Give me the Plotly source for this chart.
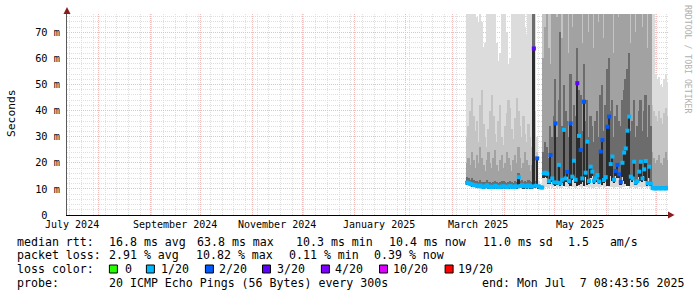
import plotly.graph_objects as go
import pandas as pd

# ---------------- data ----------------
first_bin = "2025-03-09 12:00"   # daily bins, Mar 9 .. Jul 7 2025

median_ms = [
    12.4, 12.2, 11.9, 11.7, 11.5, 11.4, 11.2, 11.0, 11.3, 10.9,
    10.8, 11.0, 11.4, 10.8, 10.9, 10.7, 10.8, 11.2, 10.8, 10.7,
    10.8, 10.9, 11.0, 10.8, 10.7, 10.9, 11.1, 10.8, 10.7, 11.0,
    10.9, 14.5, 11.1, 11.4, 11.0, 11.2, 10.9, 11.3, 11.0, 10.9,
    63.8, 11.2, 21.7, 11.0, 10.6, 10.5, 16.0, 16.2, 15.8, 13.0,
    23.0, 14.0, 12.5, 35.1, 12.4, 19.2, 12.2, 13.5, 32.6, 14.0,
    16.5, 13.0, 35.1, 14.7, 20.8, 13.5, 50.5, 30.3, 24.9, 14.0,
    43.4, 16.2, 28.1, 13.0, 18.5, 16.6, 13.1, 14.0, 15.3, 12.8,
    24.3, 28.7, 13.4, 14.5, 33.8, 37.7, 19.5, 22.4, 13.5, 16.9,
    19.2, 15.6, 12.6, 20.0, 23.9, 25.5, 32.3, 37.7, 14.7, 14.0,
    20.4, 12.4, 13.0, 16.6, 20.4, 14.0, 17.5, 20.7, 12.2, 18.5,
    12.0, 10.3, 10.2, 10.2, 10.3, 10.2, 10.2, 10.3, 10.2, 10.2, 10.4,
]

loss_pings = [
    1, 1, 1, 1, 1, 1, 1, 1, 1, 1,
    1, 1, 1, 1, 1, 1, 1, 1, 1, 1,
    1, 1, 1, 1, 1, 1, 1, 1, 1, 1,
    1, 1, 1, 1, 1, 1, 1, 1, 1, 1,
    3, 1, 2, 1, 1, 1, 1, 1, 1, 1,
    2, 1, 1, 2, 1, 1, 1, 1, 1, 1,
    2, 1, 2, 1, 1, 1, 3, 1, 2, 1,
    2, 1, 1, 1, 1, 1, 1, 1, 1, 1,
    2, 2, 1, 1, 2, 2, 1, 1, 1, 2,
    2, 2, 2, 1, 1, 1, 1, 1, 1, 1,
    1, 1, 1, 1, 1, 1, 1, 1, 1, 1,
    1, 1, 1, 1, 1, 1, 1, 1, 1, 1, 1,
]

# lowest ping of each bin (bottom of the outer smoke)
smoke_lo = [
    11.8, 11.6, 11.3, 11.1, 10.9, 10.8, 10.6, 10.5, 10.6, 10.4,
    10.3, 10.4, 10.6, 10.3, 10.3, 10.2, 10.3, 10.5, 10.3, 10.2,
    10.3, 10.3, 10.4, 10.3, 10.2, 10.3, 10.4, 10.3, 10.2, 10.4,
    10.3, 10.6, 10.4, 10.5, 10.3, 10.4, 10.3, 10.5, 10.3, 10.3,
    10.8, 10.4, 10.6, 10.3, 10.1, 10.0, 10.5, 10.8, 10.6, 10.4,
    11.0, 10.5, 10.8, 11.2, 10.4, 10.6, 10.5, 10.4, 11.0, 10.6,
    10.8, 10.4, 11.2, 10.6, 10.8, 10.5, 11.4, 11.0, 10.8, 10.5,
    11.0, 10.6, 10.8, 10.4, 10.6, 10.5, 10.3, 10.6, 10.8, 10.4,
    10.9, 11.0, 10.4, 10.7, 11.2, 11.0, 10.8, 10.9, 10.4, 10.7,
    10.8, 10.6, 10.5, 10.8, 10.9, 11.0, 11.2, 11.4, 10.5, 10.6,
    10.8, 10.4, 10.5, 10.7, 10.8, 10.5, 10.7, 10.9, 10.4, 10.7,
    10.5, 9.9, 9.9, 9.8, 9.9, 9.9, 9.8, 9.9, 9.9, 9.8, 9.9,
]

# bottom of the inner (darker) smoke
inner_lo = [
    11.8, 11.6, 11.3, 11.1, 10.9, 10.8, 10.6, 10.5, 10.6, 10.4,
    10.3, 10.4, 10.6, 10.3, 10.3, 10.2, 10.3, 10.5, 10.3, 10.2,
    10.3, 10.3, 10.4, 10.3, 10.2, 10.3, 10.4, 10.3, 10.2, 10.4,
    10.3, 10.6, 10.4, 10.5, 10.3, 10.4, 10.3, 10.5, 10.3, 10.3,
    10.8, 10.4, 11.0, 10.3, 10.1, 10.0, 14.0, 14.5, 14.0, 12.0,
    12.0, 12.5, 11.5, 11.0, 11.5, 13.0, 11.3, 12.3, 11.2, 12.8,
    14.5, 12.0, 11.0, 13.5, 15.0, 12.4, 11.0, 11.5, 12.0, 12.8,
    11.0, 14.5, 11.5, 12.0, 14.0, 15.0, 12.0, 12.8, 13.8, 11.8,
    12.5, 11.5, 12.3, 13.0, 11.2, 11.0, 15.0, 13.0, 12.3, 15.0,
    14.0, 14.0, 11.6, 14.5, 13.0, 12.0, 11.2, 11.0, 13.5, 12.8,
    14.5, 11.5, 12.0, 14.5, 13.0, 12.8, 15.0, 13.0, 11.3, 14.0,
    11.2, 9.9, 9.9, 9.8, 9.9, 9.9, 9.8, 9.9, 9.9, 9.8, 9.9,
]

# top of each smoke shade (outermost / lightest first); 90 = beyond the top
top_light = [
    90, 90, 90, 90, 90, 90, 76, 74, 90, 74,
    64, 66, 90, 90, 90, 90, 90, 90, 66, 59,
    62, 90, 90, 90, 70, 58, 60, 90, 90, 90,
    90, 90, 90, 90, 90, 72, 69, 90, 90, 90,
    90, 90, 30, 13, 11.5, 11.5, 90, 90, 90, 90,
    90, 90, 90, 90, 90, 90, 90, 90, 90, 90,
    90, 90, 90, 90, 90, 90, 90, 90, 90, 90,
    90, 90, 90, 90, 90, 90, 90, 90, 90, 90,
    90, 90, 90, 90, 90, 90, 90, 90, 90, 90,
    90, 90, 90, 90, 90, 90, 90, 90, 90, 90,
    90, 90, 90, 90, 90, 90, 90, 90, 90, 90,
    90, 90, 90, 54, 52, 53, 50, 49, 52, 54, 51,
]

top_mid1 = [
    30, 34, 40, 45, 38, 32, 36, 28, 42, 48,
    35, 30, 26, 33, 40, 46, 38, 31, 28, 36,
    42, 30, 27, 34, 39, 44, 41, 33, 29, 37,
    45, 40, 34, 30, 38, 31, 28, 35, 30, 26,
    90, 40, 24, 11.5, 11, 11, 90, 90, 90, 90,
    90, 90, 90, 90, 90, 90, 90, 90, 90, 90,
    90, 90, 90, 90, 90, 90, 90, 90, 90, 90,
    90, 90, 90, 90, 90, 90, 90, 90, 90, 90,
    90, 90, 90, 90, 90, 90, 90, 90, 90, 90,
    90, 90, 90, 90, 90, 90, 90, 90, 90, 90,
    90, 90, 90, 90, 90, 90, 90, 90, 90, 90,
    90, 42, 40, 38, 36, 40, 37, 35, 39, 41, 38,
]

top_mid2 = [
    20, 22, 19, 24, 21, 18, 23, 20, 26, 22,
    19, 17, 21, 24, 20, 18, 22, 25, 19, 17,
    21, 23, 18, 20, 24, 22, 19, 17, 21, 23,
    20, 26, 22, 18, 20, 24, 21, 19, 17, 19,
    90, 22, 22, 11, 10.8, 10.8, 60, 72, 90, 64,
    58, 90, 90, 90, 76, 90, 90, 68, 90, 90,
    90, 62, 90, 72, 90, 90, 90, 90, 90, 66,
    90, 90, 90, 70, 90, 90, 64, 90, 90, 74,
    90, 90, 68, 90, 90, 90, 90, 90, 62, 90,
    90, 76, 90, 90, 90, 90, 90, 90, 66, 90,
    90, 70, 90, 90, 90, 72, 90, 90, 64, 90,
    90, 24, 22, 20, 21, 23, 20, 19, 22, 24, 21,
]

top_dark = [
    14.5, 14.0, 13.5, 14.0, 13.5, 13.0, 13.2, 12.8, 13.5, 12.8,
    12.5, 12.8, 13.6, 12.6, 12.8, 12.4, 12.6, 13.2, 12.6, 12.4,
    12.8, 12.9, 13.0, 12.6, 12.4, 12.8, 13.2, 12.6, 12.4, 13.0,
    12.8, 16.0, 13.2, 13.4, 12.8, 13.2, 12.8, 13.4, 13.0, 12.8,
    90, 13.0, 20.0, 10.8, 10.5, 10.5, 24, 28, 26, 22,
    34, 30, 38, 52, 30, 44, 70, 34, 50, 40,
    36, 30, 54, 34, 42, 38, 64, 48, 46, 32,
    58, 36, 44, 30, 38, 34, 28, 36, 40, 30,
    46, 50, 32, 42, 56, 60, 40, 44, 30, 38,
    42, 36, 34, 44, 48, 52, 56, 62, 32, 36,
    44, 30, 34, 40, 44, 32, 40, 46, 30, 42,
    34, 11.2, 11.0, 11.0, 11.1, 11.0, 11.0, 11.1, 11.0, 11.0, 11.1,
]

y_tick_vals = [0, 10, 20, 30, 40, 50, 60, 70]
y_tick_text = ["\u00a00\u00a0\u00a0", "10\u00a0m", "20\u00a0m", "30\u00a0m",
               "40\u00a0m", "50\u00a0m", "60\u00a0m", "70\u00a0m"]

month_grid = ["2024-08-01", "2024-09-01", "2024-10-01", "2024-11-01", "2024-12-01",
              "2025-01-01", "2025-02-01", "2025-03-01", "2025-04-01", "2025-05-01",
              "2025-06-01", "2025-07-01"]
month_label_at = ["2024-07-16", "2024-09-16", "2024-11-16", "2025-01-16",
                  "2025-03-16", "2025-05-16"]
month_labels = ["July 2024", "September 2024", "November 2024", "January 2025",
                "March 2025", "May 2025"]

loss_levels = [0, 1, 2, 3, 4, 10, 19]
loss_level_text = ["0", "1/20", "2/20", "3/20", "4/20", "10/20", "19/20"]
loss_level_color = ["#26ff00", "#00b8ff", "#0059ff", "#5e00ff", "#7e00ff", "#dd00ff", "#ff0000"]

stats_rtt = [("median rtt:", 16.5), ("16.8 ms avg", 108), ("63.8 ms max", 196),
             ("10.3 ms min", 295), ("10.4 ms now", 388), ("11.0 ms sd", 482),
             ("1.5   am/s", 567)]
stats_loss = [("packet loss:", 16.5), ("2.91 % avg", 108), ("10.82 % max", 195),
              ("0.11 % min", 288), ("0.39 % now", 373)]
probe_line = [("probe:", 16.5), ("20 ICMP Echo Pings (56 Bytes) every 300s", 108),
              ("end: Mon Jul  7 08:43:56 2025", 481)]
loss_box_x = [109.4, 146.4, 205.4, 262.5, 321.4, 379.5, 445.1]
loss_text_x = [124.1, 160.7, 218.8, 276.8, 334.8, 392.9, 457.6]

# ---------------- figure ----------------
W, H = 697, 297
ML, MR, MT, MB = 67, 29, 14, 82
PW, PH = W - ML - MR, H - MT - MB
MONO = "DejaVu Sans Mono"


def pxx(p):
    return (p - ML) / PW


def pyy(p):
    return (MT + PH - p) / PH


days = pd.date_range(first_bin, periods=len(median_ms), freq="D")
DAY_MS = 86400000

fig = go.Figure()
bands = [(top_light, smoke_lo, "#dcdcdc"), (top_mid1, inner_lo, "#c4c4c4"),
         (top_mid2, inner_lo, "#a2a2a2"), (top_dark, inner_lo, "#6c6c6c"),
         (median_ms, inner_lo, "#2c2c2c")]
for tops, lows, col in bands:
    fig.add_trace(go.Bar(
        x=days, y=[t - b for t, b in zip(tops, lows)], base=lows,
        width=DAY_MS * 1.08, marker=dict(color=col, line=dict(width=0)),
        hoverinfo="skip", showlegend=False))

color_of = dict(zip(loss_levels, loss_level_color))
fig.add_trace(go.Scatter(
    x=days, y=median_ms, mode="markers",
    marker=dict(symbol="square", size=4, color=[color_of[l] for l in loss_pings],
                line=dict(width=0)),
    hoverinfo="skip", showlegend=False))

grid_red = "#f1bcbc"
grid_gray = "#dedede"
fig.update_xaxes(
    type="date", range=["2024-07-13 06:00", "2025-07-07 18:00"],
    tickmode="array", tickvals=month_grid, showticklabels=False, ticks="",
    showgrid=True, gridcolor=grid_red, griddash="1px,1px", gridwidth=1,
    minor=dict(dtick=7 * DAY_MS, tick0="2024-07-15", showgrid=True,
               gridcolor=grid_gray, griddash="1px,1px", gridwidth=1),
    showline=True, linecolor="black", linewidth=1, zeroline=False, fixedrange=True)
fig.update_yaxes(
    range=[0, PH / 2.61], tickmode="array", tickvals=y_tick_vals, ticktext=y_tick_text,
    showgrid=True, gridcolor=grid_red, griddash="1px,1px", gridwidth=1,
    minor=dict(dtick=2, showgrid=True, gridcolor=grid_gray, griddash="1px,1px", gridwidth=1),
    showline=True, linecolor="#5a5a5a", linewidth=1, zeroline=False, ticks="",
    ticklabelstandoff=4, tickfont=dict(family=MONO, size=10.3, color="black"),
    fixedrange=True)

ann = []
for d, t in zip(month_label_at, month_labels):
    ann.append(dict(x=d, xref="x", y=pyy(224.5), yref="paper", text=t, showarrow=False,
                    xanchor="center", yanchor="middle", borderpad=0,
                    font=dict(family=MONO, size=10, color="black")))

legend_font = dict(family=MONO, size=11.6, color="black")


def put(tokens, yc):
    for t, x in tokens:
        ann.append(dict(x=pxx(x - 1.5), xref="paper", y=pyy(yc), yref="paper",
                        text=t.replace(" ", "\u00a0"), showarrow=False,
                        xanchor="left", yanchor="middle", font=legend_font))


put(stats_rtt, 241.7)
put(stats_loss, 255.0)
put([("loss color:", 16.5)] + list(zip(loss_level_text, loss_text_x)), 269.3)
put(probe_line, 283.3)

ann.append(dict(x=pxx(11), xref="paper", y=pyy(113), yref="paper", text="Seconds",
                textangle=-90, showarrow=False, xanchor="center", yanchor="middle",
                font=dict(family=MONO, size=11.3, color="black")))
ann.append(dict(x=pxx(688), xref="paper", y=pyy(59), yref="paper",
                text="RRDTOOL / TOBI OETIKER", textangle=90, showarrow=False,
                xanchor="center", yanchor="middle",
                font=dict(family=MONO, size=8.2, color="#b0b0b0")))

shapes = []
for bx, col in zip(loss_box_x, loss_level_color):
    shapes.append(dict(type="rect", xref="paper", yref="paper",
                       x0=pxx(bx), x1=pxx(bx + 8), y0=pyy(273), y1=pyy(265),
                       fillcolor=col, line=dict(color="black", width=1)))
# axis arrows
shapes.append(dict(type="path", xref="paper", yref="paper", xsizemode="pixel",
                   ysizemode="pixel", xanchor=0, yanchor=1,
                   path="M -3.5 0 L 3.5 0 L 0 7 Z", fillcolor="#8b1c1c",
                   line=dict(width=0)))
shapes.append(dict(type="path", xref="paper", yref="paper", xsizemode="pixel",
                   ysizemode="pixel", xanchor=1, yanchor=0,
                   path="M 0 -3.5 L 0 3.5 L 6.5 0 Z", fillcolor="#8b1c1c",
                   line=dict(width=0)))

fig.update_layout(
    width=W, height=H, margin=dict(l=ML, r=MR, t=MT, b=MB, pad=0),
    paper_bgcolor="white", plot_bgcolor="white", barmode="overlay", bargap=0,
    showlegend=False, annotations=ann, shapes=shapes,
    font=dict(family=MONO, size=10, color="black"))

fig.write_html("out.html")
